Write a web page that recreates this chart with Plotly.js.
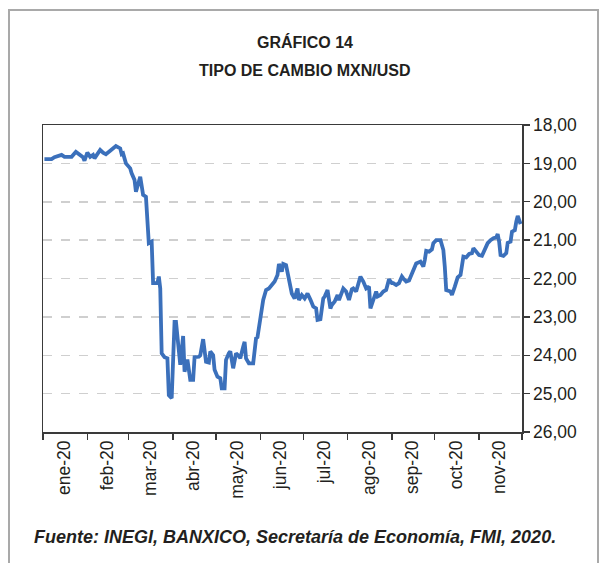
<!DOCTYPE html>
<html>
<head>
<meta charset="utf-8">
<script src="https://cdn.plot.ly/plotly-3.0.1.min.js"></script>
<style>
  html, body { margin: 0; padding: 0; background: #ffffff; }
  #wrap { position: relative; width: 605px; height: 563px; overflow: hidden; }
  #chart { position: absolute; left: 0; top: 0; width: 605px; height: 563px; }
  #frame { position: absolute; left: 8px; top: 9px; width: 591px; height: 620px;
           border: 2px solid #a9a9a9; box-sizing: border-box; pointer-events: none; }
</style>
</head>
<body>
<div id="wrap">
  <div id="chart"></div>
  <div id="frame"></div>
</div>
<script>
// Tipo de cambio MXN/USD, 2020
const dates = [
  "2020-01-02","2020-01-07","2020-01-09","2020-01-14","2020-01-16","2020-01-21","2020-01-24","2020-01-27","2020-01-29","2020-01-30",
  "2020-02-01","2020-02-03","2020-02-05","2020-02-06","2020-02-10","2020-02-12","2020-02-14","2020-02-17","2020-02-19","2020-02-21",
  "2020-02-24","2020-02-25","2020-02-26","2020-02-28","2020-03-02","2020-03-03","2020-03-05","2020-03-06","2020-03-09","2020-03-10",
  "2020-03-11","2020-03-13","2020-03-14","2020-03-15","2020-03-17","2020-03-18","2020-03-21","2020-03-22","2020-03-23","2020-03-24",
  "2020-03-26","2020-03-28","2020-03-29","2020-03-31","2020-04-02","2020-04-03","2020-04-06","2020-04-08","2020-04-09","2020-04-11",
  "2020-04-13","2020-04-15","2020-04-16","2020-04-19","2020-04-20","2020-04-22","2020-04-24","2020-04-26","2020-04-27","2020-04-29",
  "2020-04-30","2020-05-02","2020-05-04","2020-05-05","2020-05-07","2020-05-08","2020-05-10","2020-05-11","2020-05-13","2020-05-15",
  "2020-05-17","2020-05-18","2020-05-20","2020-05-21","2020-05-22","2020-05-24","2020-05-27","2020-05-28","2020-05-29","2020-05-30",
  "2020-05-31","2020-06-01","2020-06-02","2020-06-03","2020-06-05","2020-06-07","2020-06-09","2020-06-11","2020-06-13","2020-06-14",
  "2020-06-16","2020-06-17","2020-06-19","2020-06-20","2020-06-22","2020-06-23","2020-06-25","2020-06-27","2020-06-28","2020-06-30",
  "2020-07-02","2020-07-04","2020-07-06","2020-07-08","2020-07-10","2020-07-11","2020-07-13","2020-07-15","2020-07-16","2020-07-18",
  "2020-07-20","2020-07-21","2020-07-23","2020-07-25","2020-07-26","2020-07-28","2020-07-29","2020-07-31","2020-08-02","2020-08-04",
  "2020-08-05","2020-08-07","2020-08-09","2020-08-10","2020-08-12","2020-08-14","2020-08-16","2020-08-17","2020-08-19","2020-08-21",
  "2020-08-22","2020-08-24","2020-08-26","2020-08-28","2020-08-30","2020-09-01","2020-09-02","2020-09-04","2020-09-06","2020-09-08",
  "2020-09-09","2020-09-11","2020-09-13","2020-09-15","2020-09-16","2020-09-18","2020-09-21","2020-09-23","2020-09-24","2020-09-25",
  "2020-09-27","2020-09-29","2020-09-30","2020-10-02","2020-10-05","2020-10-07","2020-10-08","2020-10-09","2020-10-12","2020-10-13",
  "2020-10-15","2020-10-17","2020-10-19","2020-10-20","2020-10-21","2020-10-23","2020-10-25","2020-10-27","2020-10-28","2020-10-30",
  "2020-11-01","2020-11-03","2020-11-05","2020-11-07","2020-11-09","2020-11-11","2020-11-13","2020-11-14","2020-11-15","2020-11-16",
  "2020-11-18","2020-11-20","2020-11-21","2020-11-23","2020-11-24","2020-11-26","2020-11-27","2020-11-28","2020-11-30"
];
const rates = [
  18.89,18.89,18.84,18.78,18.83,18.83,18.70,18.78,18.84,18.93,
  18.72,18.83,18.78,18.87,18.65,18.72,18.76,18.67,18.61,18.55,
  18.61,18.76,18.74,19.00,19.13,19.26,19.43,19.74,19.35,19.60,
  19.82,19.87,20.70,21.08,21.04,22.12,22.12,21.95,22.26,23.95,
  24.05,24.08,25.04,25.12,23.13,23.13,24.25,23.50,24.43,24.11,
  24.64,24.64,24.05,24.04,24.00,23.58,24.17,24.19,23.90,24.00,
  24.38,24.56,24.60,24.86,24.86,24.12,23.95,23.90,24.34,23.95,
  24.02,24.08,23.78,23.65,24.08,24.21,24.21,23.86,23.56,23.53,
  23.30,23.00,22.91,22.56,22.30,22.26,22.17,22.08,21.91,21.62,
  21.82,21.62,21.65,21.82,22.12,22.39,22.52,22.26,22.56,22.43,
  22.52,22.39,22.55,22.73,22.78,23.08,23.06,22.52,22.47,22.30,
  22.78,22.69,22.60,22.43,22.56,22.39,22.26,22.34,22.56,22.28,
  22.26,22.34,22.12,21.95,22.08,22.26,22.21,22.78,22.56,22.34,
  22.47,22.43,22.34,22.30,22.02,22.12,22.12,22.17,22.12,21.95,
  22.00,22.08,22.05,21.86,21.78,21.61,21.56,21.69,21.52,21.28,
  21.30,21.24,21.08,21.00,21.00,21.26,21.69,22.30,22.34,22.43,
  22.21,21.97,21.91,21.56,21.43,21.45,21.36,21.34,21.21,21.30,
  21.39,21.41,21.21,21.08,21.00,20.95,20.93,20.84,21.04,21.39,
  21.41,21.34,21.07,21.04,20.78,20.74,20.52,20.37,20.58
];
const monthTickDates = ["2020-01-16","2020-02-15","2020-03-16","2020-04-15","2020-05-16",
  "2020-06-15","2020-07-16","2020-08-16","2020-09-15","2020-10-16","2020-11-15"];
const monthLabels = ["ene-20","feb-20","mar-20","abr-20","may-20","jun-20",
  "jul-20","ago-20","sep-20","oct-20","nov-20"];
const yTicks = [18,19,20,21,22,23,24,25,26];

const plotL = 43, plotR = 522, plotT = 125, plotB = 432;
const W = 605, H = 563;
const pw = plotR - plotL, ph = plotB - plotT;
const px = x => (x - plotL) / pw;
const py = y => (plotB - y) / ph;

const trace = {
  x: dates, y: rates, type: 'scatter', mode: 'lines',
  line: { color: '#3b70bb', width: 3.8 },
  hoverinfo: 'skip'
};

const layout = {
  width: W, height: H,
  margin: { l: plotL, r: W - plotR, t: plotT, b: H - plotB, pad: 0 },
  paper_bgcolor: 'rgba(0,0,0,0)', plot_bgcolor: '#ffffff',
  showlegend: false,
  separators: ',.',
  font: { family: 'Liberation Sans, Arial, sans-serif', color: '#231f20' },
  xaxis: {
    type: 'date',
    range: ['2020-01-01', '2020-12-01'],
    tickmode: 'array', tickvals: monthTickDates, ticktext: monthLabels,
    ticks: '', tickangle: -90,
    tickfont: { size: 17.5, color: '#231f20' },
    showgrid: false, zeroline: false,
    showline: true, linecolor: '#3a3a3a', linewidth: 1.5, mirror: true,
    minor: { ticks: 'outside', ticklen: 6, tickwidth: 1.3, tickcolor: '#3a3a3a',
             dtick: 'M1', tick0: '2020-01-01', showgrid: false },
    fixedrange: true
  },
  yaxis: {
    side: 'right',
    range: [26, 18],
    tickmode: 'array', tickvals: yTicks,
    tickformat: '.2f',
    ticks: 'outside', ticklen: 6, tickwidth: 1.3, tickcolor: '#3a3a3a',
    tickfont: { size: 17.5, color: '#231f20' },
    showgrid: true, gridcolor: '#cfcfcf', gridwidth: 1.5, griddash: 'dash',
    zeroline: false,
    showline: true, linecolor: '#3a3a3a', linewidth: 1.5, mirror: true,
    fixedrange: true
  },
  annotations: [
    { text: '<b>GRÁFICO 14</b>', xref: 'paper', yref: 'paper', x: px(305), y: py(42),
      xanchor: 'center', yanchor: 'middle', showarrow: false,
      font: { family: 'Liberation Sans Narrow, Arial Narrow, Liberation Sans, sans-serif', size: 16, color: '#231f20' } },
    { text: '<b>TIPO DE CAMBIO MXN/USD</b>', xref: 'paper', yref: 'paper', x: px(305), y: py(71),
      xanchor: 'center', yanchor: 'middle', showarrow: false,
      font: { family: 'Liberation Sans Narrow, Arial Narrow, Liberation Sans, sans-serif', size: 16, color: '#231f20' } },
    { text: '<b><i>Fuente: INEGI, BANXICO, Secretaría de Economía, FMI, 2020.</i></b>',
      xref: 'paper', yref: 'paper', x: px(32), y: py(537),
      xanchor: 'left', yanchor: 'middle', showarrow: false,
      font: { family: 'Liberation Sans, Arial, sans-serif', size: 18, color: '#231f20' } }
  ]
};

Plotly.newPlot('chart', [trace], layout, { staticPlot: true, displayModeBar: false });
</script>
</body>
</html>
